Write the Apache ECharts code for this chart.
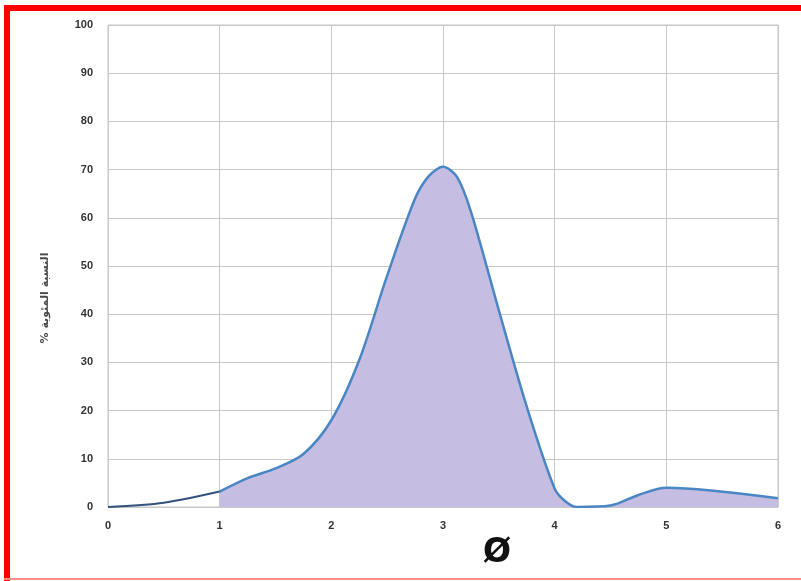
<!DOCTYPE html>
<html>
<head>
<meta charset="utf-8">
<script src="https://cdn.jsdelivr.net/npm/echarts@6/dist/echarts.min.js"></script>
<style>
  html, body { margin: 0; padding: 0; background: #ffffff; }
  #chart { width: 801px; height: 581px; }
</style>
</head>
<body>
<div id="chart"></div>
<script>
// Tick labels
const xTicks = [0, 1, 2, 3, 4, 5, 6];
const yTicks = [0, 10, 20, 30, 40, 50, 60, 70, 80, 90, 100];

// Fine tail (phi 0 to 1), drawn as a plain line
const phiTail = [0, 0.5, 1];
const pctTail = [0, 0.9, 3.2];

// Main distribution curve (phi 1 to 6), filled underneath
const phiMain = [1, 1.25, 1.5, 1.75, 2, 2.25, 2.5, 2.75, 2.875, 3, 3.125, 3.25, 3.5, 3.75,
                 4, 4.1, 4.2, 4.5, 4.75, 5, 6];
const pctMain = [3.2, 6, 8, 11, 18, 30.5, 48, 64, 68.7, 70.6, 68.5, 61.3, 40.8, 20.8,
                 3.8, 1.1, 0, 0.3, 2.5, 4, 1.8];

const yName = '% النسبة المئوية';
const xName = 'Ø';

const pair = (xs, ys) => xs.map((x, i) => [x, ys[i]]);

const chart = echarts.init(document.getElementById('chart'));

const labelFont = {
  fontFamily: 'Liberation Sans, Arial, sans-serif',
  fontWeight: 'bold',
  fontSize: 11,
  color: '#333333'
};

chart.setOption({
  animation: false,
  backgroundColor: '#ffffff',
  grid: { left: 108, right: 23, top: 25, bottom: 74, show: true, borderColor: '#c4c4c4', borderWidth: 1 },
  xAxis: {
    type: 'value',
    min: xTicks[0],
    max: xTicks[xTicks.length - 1],
    interval: 1,
    name: xName,
    nameLocation: 'middle',
    nameGap: 30,
    nameTextStyle: {
      fontFamily: 'DejaVu Sans, sans-serif',
      fontWeight: 'bold',
      fontSize: 33,
      color: '#111111',
      padding: [0, 0, 0, 108]
    },
    axisLine: { show: false },
    axisTick: { show: false },
    axisLabel: Object.assign({ margin: 13 }, labelFont),
    splitLine: { show: true, lineStyle: { color: '#c8c8c8', width: 1 } }
  },
  yAxis: {
    type: 'value',
    min: yTicks[0],
    max: yTicks[yTicks.length - 1],
    interval: 10,
    axisLine: { show: false },
    axisTick: { show: false },
    axisLabel: Object.assign({ margin: 15 }, labelFont),
    splitLine: { show: true, lineStyle: { color: '#c8c8c8', width: 1 } }
  },
  graphic: [
    { type: 'rect', shape: { x: 4, y: 5, width: 797, height: 6 }, style: { fill: '#ff0000' }, z: 100 },
    { type: 'rect', shape: { x: 4, y: 5, width: 6, height: 576 }, style: { fill: '#ff0000' }, z: 100 },
    { type: 'rect', shape: { x: 4, y: 578, width: 797, height: 2 }, style: { fill: '#ff8a8a' }, z: 100 },
    {
      type: 'text',
      x: 45, y: 298,
      rotation: Math.PI / 2,
      style: {
        text: yName,
        align: 'center',
        verticalAlign: 'middle',
        font: 'bold 11px "DejaVu Sans", sans-serif',
        fill: '#4a4a4a'
      }
    }
  ],
  series: [
    {
      type: 'line',
      data: pair(phiTail, pctTail),
      smooth: 0.3,
      showSymbol: false,
      lineStyle: { color: '#34527e', width: 2 },
      z: 3
    },
    {
      type: 'line',
      data: pair(phiMain, pctMain),
      smooth: 0.3,
      showSymbol: false,
      lineStyle: { color: '#4a86c4', width: 2.5 },
      areaStyle: { color: '#c6bde3', opacity: 1 },
      z: 2
    }
  ]
});
</script>
</body>
</html>
